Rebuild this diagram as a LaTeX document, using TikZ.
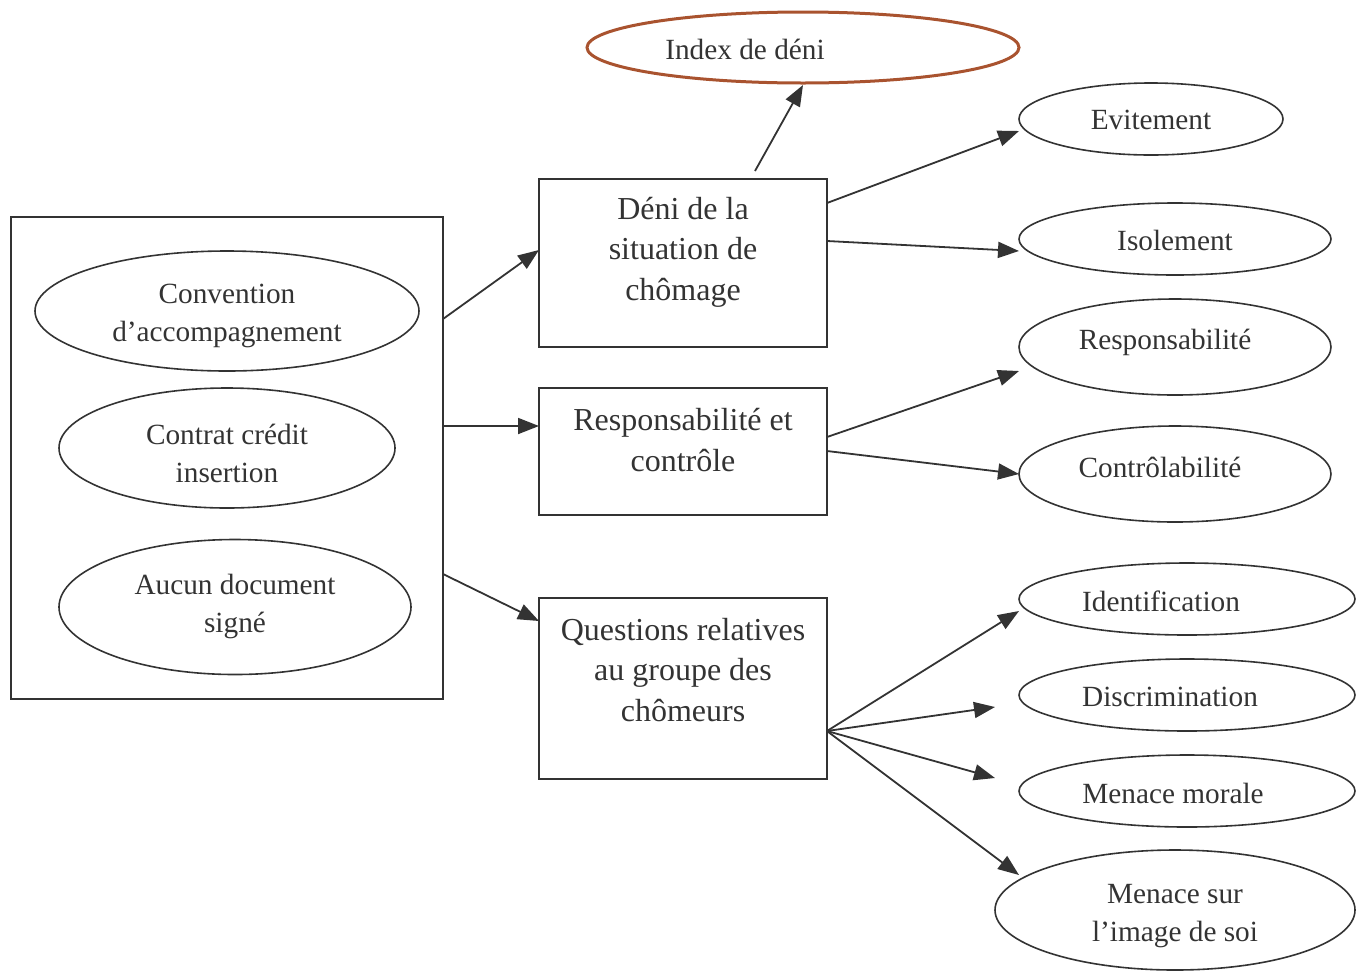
\documentclass[tikz,border=0pt]{standalone}
\usepackage{fontspec}
\setmainfont{Liberation Serif}
\usetikzlibrary{arrows.meta,shapes.geometric}
\definecolor{ink}{HTML}{333333}
\definecolor{brownline}{HTML}{A9532F}
\tikzset{
  boxnode/.style={draw=ink, line width=2pt, rectangle, inner sep=0pt},
  ell/.style={draw=ink, line width=1.6pt, ellipse, inner sep=0pt},
  ellt/.style={text=ink, align=center, font=\fontsize{29.3}{38}\selectfont},
  boxt/.style={text=ink, align=center, font=\fontsize{32}{40.5}\selectfont},
  arr/.style={draw=ink, line width=1.8pt, -{Triangle[length=21pt,width=16pt]}}
}
\begin{document}
\begin{tikzpicture}[x=1pt,y=-1pt]
\useasboundingbox (0,0) rectangle (1370,970);
% left group
\node[boxnode, minimum width=432pt, minimum height=482pt] (outer) at (227,458) {};
\node[ell, minimum width=384pt, minimum height=120pt] (conv) at (227,311) {};
\node[ellt] at (227,316) {Convention\\d’accompagnement};
\node[ell, minimum width=336pt, minimum height=120pt] (cci) at (227,448) {};
\node[ellt] at (227,453) {Contrat crédit\\insertion};
\node[ell, minimum width=352pt, minimum height=135pt] (aucun) at (235,607) {};
\node[ellt] at (235,606) {Aucun document\\signé};
% middle boxes
\node[boxnode, minimum width=288pt, minimum height=168pt] (deni) at (683,263) {};
\node[boxt] at (683,252) {Déni de la\\situation de\\chômage};
\node[boxnode, minimum width=288pt, minimum height=127pt] (resp) at (683,451.5) {};
\node[boxt] at (683,440) {Responsabilité et\\contrôle};
\node[boxnode, minimum width=288pt, minimum height=181pt] (quest) at (683,688.5) {};
\node[boxt] at (683,670) {Questions relatives\\au groupe des\\chômeurs};
% index
\node[draw=brownline, line width=3pt, ellipse, inner sep=0pt, minimum width=432pt, minimum height=71pt] (index) at (803,47.5) {};
\node[ellt] at (745,49) {Index de déni};
% right ellipses
\node[ell, minimum width=264pt, minimum height=72pt] (evit) at (1151,119) {};
\node[ellt] at (1151,120) {Evitement};
\node[ell, minimum width=312pt, minimum height=72pt] (isol) at (1175,239) {};
\node[ellt] at (1175,240) {Isolement};
\node[ell, minimum width=312pt, minimum height=96pt] (respo) at (1175,347) {};
\node[ellt] at (1165,342) {Responsabilité};
\node[ell, minimum width=312pt, minimum height=96pt] (contr) at (1175,474) {};
\node[ellt] at (1160,467) {Contrôlabilité};
\node[ell, minimum width=336pt, minimum height=72pt] (ident) at (1187,599) {};
\node[ellt] at (1161,601) {Identification};
\node[ell, minimum width=336pt, minimum height=72pt] (discr) at (1187,695) {};
\node[ellt] at (1170,697) {Discrimination};
\node[ell, minimum width=336pt, minimum height=72pt] (menm) at (1187,791) {};
\node[ellt] at (1173,793) {Menace morale};
\node[ell, minimum width=360pt, minimum height=120pt] (mens) at (1175,910) {};
\node[ellt] at (1175,916) {Menace sur\\l’image de soi};
% connector points
\coordinate (o1) at (443,319);
\coordinate (o2) at (443,426);
\coordinate (o3) at (443,574);
\coordinate (d1) at (539,250);
\coordinate (r1) at (539,426);
\coordinate (q1) at (539,621);
\coordinate (dtop) at (755,171);
\coordinate (ibot) at (803,85);
\coordinate (de1) at (827,203);
\coordinate (de2) at (827,241);
\coordinate (ev) at (1019,131);
\coordinate (is) at (1019,251);
\coordinate (re1) at (827,437);
\coordinate (re2) at (827,451);
\coordinate (rs) at (1019,371);
\coordinate (ct) at (1019,474);
\coordinate (qe) at (827,731);
\coordinate (id) at (1019,611);
\coordinate (di) at (995,707);
\coordinate (mm) at (995,778);
\coordinate (ms) at (1019,875);
% connectors
\draw[arr] (o1) -- (d1);
\draw[arr] (o2) -- (r1);
\draw[arr] (o3) -- (q1);
\draw[arr] (dtop) -- (ibot);
\draw[arr] (de1) -- (ev);
\draw[arr] (de2) -- (is);
\draw[arr] (re1) -- (rs);
\draw[arr] (re2) -- (ct);
\draw[arr] (qe) -- (id);
\draw[arr] (qe) -- (di);
\draw[arr] (qe) -- (mm);
\draw[arr] (qe) -- (ms);
\end{tikzpicture}
\end{document}
